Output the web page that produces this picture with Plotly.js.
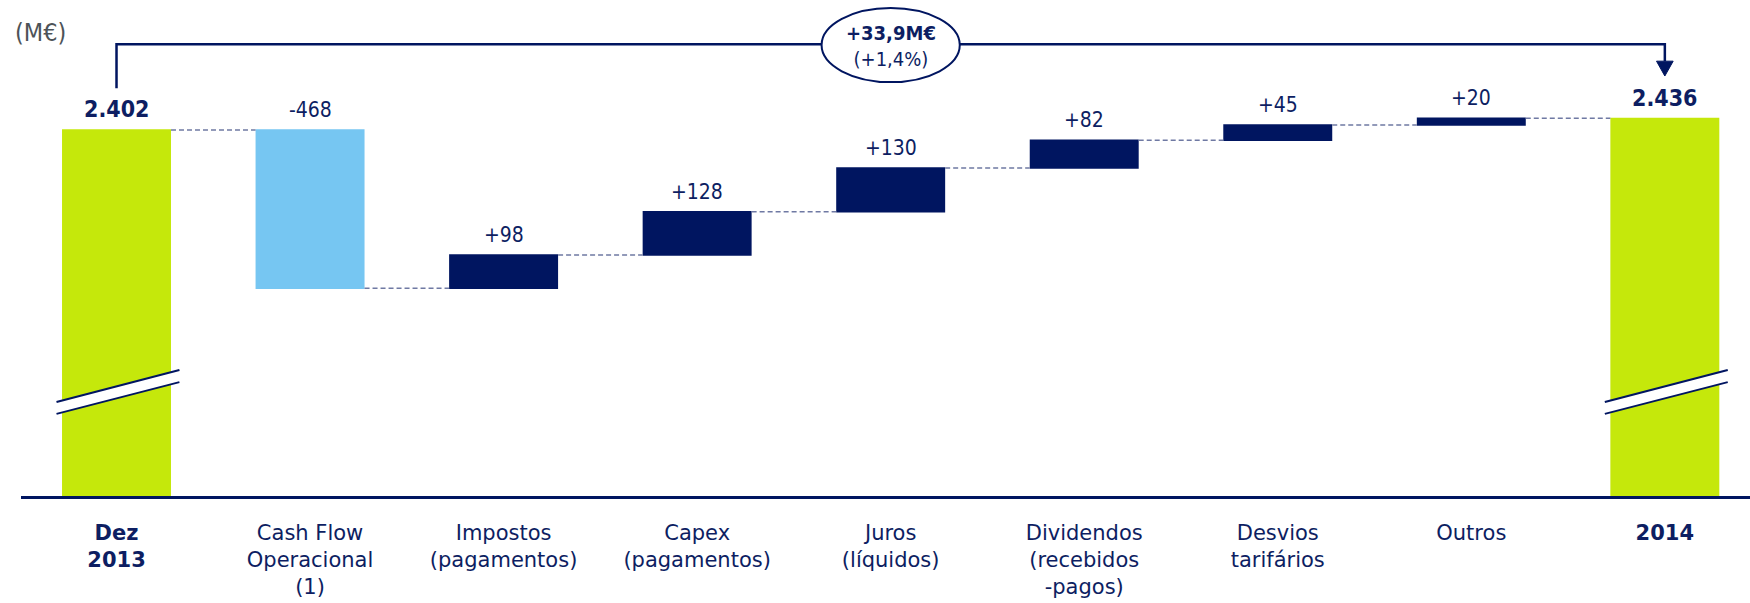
<!DOCTYPE html>
<html>
<head>
<meta charset="utf-8">
<script src="https://cdn.plot.ly/plotly-3.0.1.min.js"></script>
<style>html,body{margin:0;padding:0;background:#fff}#chart{width:1750px;height:603px}</style>
</head>
<body>
<div id="chart"></div>
<script>
// ---- data ----
const categories = ['Dez 2013','Cash Flow Operacional (1)','Impostos (pagamentos)','Capex (pagamentos)','Juros (líquidos)','Dividendos (recebidos -pagos)','Desvios tarifários','Outros','2014'];
const tickLabels = ['<b>Dez</b><br><b>2013</b>','Cash Flow<br>Operacional<br>(1)','Impostos<br>(pagamentos)','Capex<br>(pagamentos)','Juros<br>(líquidos)','Dividendos<br>(recebidos<br>-pagos)','Desvios<br>tarifários','Outros','<b>2014</b>'];
const values = [2402, -468, 98, 128, 130, 82, 45, 20, 2436];
const measures = ['absolute','relative','relative','relative','relative','relative','relative','relative','absolute'];
const valueLabels = ['2.402','-468','+98','+128','+130','+82','+45','+20','2.436'];
const deltaLabel = '<b>+33,9M€</b>';
const deltaPct = '(+1,4%)';
const unitLabel = '(M€)';

// ---- styles ----
const NAVY = '#001560';
const TXT = '#0d1e62';
const GREEN = '#c5e80b';
const LBLUE = '#76c6f2';
const FONT = '"DejaVu Sans Condensed","DejaVu Sans",Tahoma,sans-serif';
const FONT_W = '"DejaVu Sans",Tahoma,sans-serif';

const xs = categories.map((c, i) => i);

// bar tops for labels
let run = 0;
const tops = [];
values.forEach((v, i) => {
  if (measures[i] === 'absolute') { run = v; tops.push(v); }
  else { const s = run; run += v; tops.push(Math.max(s, run)); }
});

const trace = {
  type: 'waterfall',
  x: xs,
  y: values,
  measure: measures,
  width: 0.563,
  increasing: {marker: {color: NAVY}},
  decreasing: {marker: {color: LBLUE}},
  totals: {marker: {color: GREEN}},
  connector: {mode: 'between', line: {color: '#6f79a3', width: 1.5, dash: '5px,3px'}},
  textinfo: 'none',
  hoverinfo: 'skip'
};

const annotations = valueLabels.map((t, i) => {
  const bold = measures[i] === 'absolute';
  return {
    x: i, y: tops[i], xref: 'x', yref: 'y',
    text: bold ? '<b>' + t + '</b>' : t,
    showarrow: false, yanchor: 'bottom', yshift: 6,
    font: {family: FONT, size: bold ? 23 : 21, color: TXT}
  };
});

const first = values[0];
// bracket levels (value units above start)
const yStart = first + 124, yTop = first + 254, yTip = first + 160, yHead = first + 204;

annotations.push({
  x: 4, y: first + 248, xref: 'x', yref: 'y',
  text: deltaLabel + '<br>' + deltaPct, showarrow: false,
  font: {family: FONT, size: 20, color: TXT}
});
annotations.push({
  x: -0.0046, y: 0.9335, xref: 'paper', yref: 'paper', xanchor: 'left', yanchor: 'middle',
  text: unitLabel, showarrow: false,
  font: {family: FONT, size: 25, color: '#4d5358'}
});

const shapes = [];
// bracket
shapes.push({type: 'path', xref: 'x', yref: 'y',
  path: `M 0 ${yStart} L 0 ${yTop} L 8 ${yTop} L 8 ${yHead}`,
  line: {color: NAVY, width: 2.5}, layer: 'above'});
shapes.push({type: 'path', xref: 'x', yref: 'y',
  path: `M ${8 - 0.043} ${yHead} L ${8 + 0.043} ${yHead} L 8 ${yTip} Z`,
  fillcolor: NAVY, line: {color: NAVY, width: 1}, layer: 'above'});
// ellipse
shapes.push({type: 'circle', xref: 'x', yref: 'y',
  x0: 4 - 0.357, x1: 4 + 0.357, y0: first + 142, y1: first + 361,
  fillcolor: '#ffffff', line: {color: NAVY, width: 2}, layer: 'above'});

// axis break marks on total bars
[0, 8].forEach(i => {
  const xa = i - 0.31, xb = i + 0.325;
  const uL = 1597, uR = 1692, lL = 1562, lR = 1656;
  shapes.push({type: 'path', xref: 'x', yref: 'y',
    path: `M ${xa} ${uL} L ${xb} ${uR} L ${xb} ${lR} L ${xa} ${lL} Z`,
    fillcolor: '#ffffff', line: {width: 0}, layer: 'above'});
  shapes.push({type: 'line', xref: 'x', yref: 'y', x0: xa, y0: uL, x1: xb, y1: uR,
    line: {color: NAVY, width: 2}, layer: 'above'});
  shapes.push({type: 'line', xref: 'x', yref: 'y', x0: xa, y0: lL, x1: xb, y1: lR,
    line: {color: NAVY, width: 2}, layer: 'above'});
});

const layout = {
  width: 1750, height: 603,
  margin: {l: 21, r: 0, t: 0, b: 107},
  paper_bgcolor: '#ffffff', plot_bgcolor: '#ffffff',
  showlegend: false,
  xaxis: {
    range: [-0.4935, 8.44], tickvals: xs, ticktext: tickLabels,
    showgrid: false, zeroline: false, showline: true, linecolor: NAVY, linewidth: 2.5,
    ticks: '', ticklabelstandoff: 16,
    tickfont: {family: FONT_W, size: 21, color: TXT}, fixedrange: true
  },
  yaxis: {range: [1319, 2787], visible: false, showgrid: false, zeroline: false, fixedrange: true},
  annotations: annotations,
  shapes: shapes
};

Plotly.newPlot('chart', [trace], layout, {displayModeBar: false, staticPlot: true});
</script>
</body>
</html>
